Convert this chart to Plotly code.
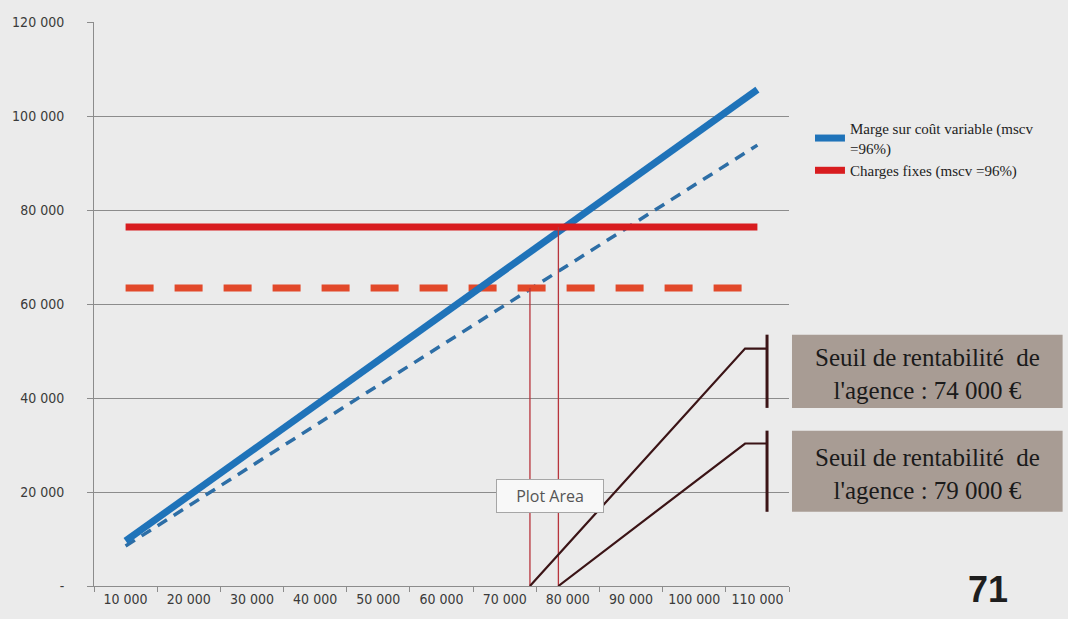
import plotly.graph_objects as go

# ---------------- data ----------------
chiffre_affaires = [10000, 20000, 30000, 40000, 50000, 60000, 70000, 80000, 90000, 100000, 110000]
x_tick_labels = ["10 000", "20 000", "30 000", "40 000", "50 000", "60 000", "70 000",
                 "80 000", "90 000", "100 000", "110 000"]
marge_mscv_96 = [9600, 19200, 28800, 38400, 48000, 57600, 67200, 76800, 86400, 96000, 105600]
marge_dashed = [8500, 17100, 25600, 34100, 42700, 51200, 59700, 68200, 76800, 85300, 93800]
charges_fixes = [76400, 76400, 76400, 76400, 76400, 76400, 76400, 76400, 76400, 76400, 76400]
charges_fixes_dashed = [63400, 63400, 63400, 63400, 63400, 63400, 63400, 63400, 63400, 63400, 63400]
y_tick_values = [0, 20000, 40000, 60000, 80000, 100000, 120000]
y_tick_labels = ["-", "20 000", "40 000", "60 000", "80 000", "100 000", "120 000"]
seuil_x = [74000, 78500]          # break-even points (drop lines)
seuil_level = [63400, 76400]
seuil_labels = ["Seuil de rentabilité\u00a0 de<br>l'agence : 74 000 €",
                "Seuil de rentabilité\u00a0 de<br>l'agence : 79 000 €"]

# ---------------- geometry helpers ----------------
W, H = 1068, 619
L, R, T, B = 93, 789, 22, 592
X0, X1 = 5000, 115000
Y0, Y1 = 0, 120000


def PX(px):
    return (px - L) / (R - L)


def PY(py):
    return (B - py) / (B - T)


def XD(px):
    return X0 + (px - L) / (R - L) * (X1 - X0)


def YD(py):
    return Y0 + (B - py) / (B - T) * (Y1 - Y0)


fig = go.Figure()

fig.add_trace(go.Scatter(x=chiffre_affaires, y=marge_dashed, mode="lines", showlegend=False,
                         line=dict(color="#2d6ea6", width=3.5, dash="11px,8px")))
fig.add_trace(go.Scatter(x=chiffre_affaires, y=charges_fixes_dashed, mode="lines", showlegend=False,
                         line=dict(color="#e2492a", width=7, dash="28px,21px")))
fig.add_trace(go.Scatter(x=chiffre_affaires, y=marge_mscv_96, mode="lines",
                         name="Marge sur coût variable (mscv<br>=96%)",
                         line=dict(color="#1f73b9", width=7)))
fig.add_trace(go.Scatter(x=chiffre_affaires, y=charges_fixes, mode="lines",
                         name="Charges fixes (mscv =96%)",
                         line=dict(color="#d81c1f", width=7)))

# drop lines at the break-even points
for bx, lvl in zip(seuil_x, seuil_level):
    fig.add_trace(go.Scatter(x=[bx, bx], y=[0, lvl], mode="lines", showlegend=False,
                             line=dict(color="#b8343c", width=1.3)))

shapes = []
annotations = []
callout_color = "#3b1416"
elbow_y = [352, 448]
bar_y = [(338, 412), (435, 517)]
box_y = [(338, 412), (435, 517)]
for i, bx in enumerate(seuil_x):
    ey = YD(elbow_y[i])
    shapes.append(dict(type="path", xref="x", yref="y",
                       path=f"M {bx},0 L {XD(745)},{ey} L {XD(767)},{ey}",
                       line=dict(color=callout_color, width=2.2)))
    shapes.append(dict(type="line", xref="x", yref="y",
                       x0=XD(767), x1=XD(767), y0=YD(bar_y[i][0]), y1=YD(bar_y[i][1]),
                       line=dict(color=callout_color, width=3)))
    top, bot = box_y[i]
    shapes.append(dict(type="rect", xref="paper", yref="paper",
                       x0=PX(792), x1=PX(1063), y0=PY(bot), y1=PY(top),
                       fillcolor="#a89c94", line=dict(width=0), layer="below"))
    annotations.append(dict(xref="paper", yref="paper", x=PX((792 + 1063) / 2),
                            y=PY((top + bot) / 2 + 3),
                            xanchor="center", yanchor="middle", showarrow=False,
                            text=seuil_labels[i], align="center",
                            font=dict(family="Liberation Serif, Times New Roman, serif", size=25,
                                      color="#1a1a1a")))

annotations.append(dict(xref="paper", yref="paper", x=PX(550), y=PY(501),
                        xanchor="center", yanchor="middle", showarrow=False,
                        text="Plot Area", width=96, height=22, borderpad=5, borderwidth=1,
                        bordercolor="#a6a6a6", bgcolor="#f8f8f8",
                        font=dict(family="Open Sans, sans-serif", size=16, color="#555555")))

annotations.append(dict(xref="paper", yref="paper", x=PX(988), y=PY(618),
                        xanchor="center", yanchor="bottom", showarrow=False, text="<b>71</b>",
                        font=dict(family="Liberation Sans Narrow, Liberation Sans, Arial, sans-serif",
                                  size=36, color="#1e1e1e")))

axis_font = dict(family="DejaVu Sans Condensed, Liberation Sans Narrow, Liberation Sans, sans-serif",
                 size=14, color="#3a3a3a")
grid_c = "#8c8c8c"

fig.update_layout(
    width=W, height=H,
    margin=dict(l=L, r=W - R, t=T, b=H - B, pad=0),
    paper_bgcolor="#ebebeb", plot_bgcolor="rgba(0,0,0,0)",
    hovermode=False,
    shapes=shapes, annotations=annotations,
    legend=dict(x=PX(810), y=PY(113), xanchor="left", yanchor="top",
                bgcolor="rgba(0,0,0,0)", tracegroupgap=0,
                font=dict(family="Liberation Serif, Times New Roman, serif", size=15, color="#222222")),
    xaxis=dict(range=[X0, X1], tickmode="array", tickvals=chiffre_affaires, ticktext=x_tick_labels,
               ticks="", showgrid=False, zeroline=False, showline=True, linecolor=grid_c, linewidth=1,
               tickfont=axis_font,
               minor=dict(tickmode="linear", tick0=5000, dtick=10000, ticks="outside",
                          ticklen=5, tickcolor=grid_c, showgrid=False)),
    yaxis=dict(range=[Y0, Y1], tickmode="array", tickvals=y_tick_values, ticktext=y_tick_labels,
               ticks="outside", ticklen=6, tickcolor=grid_c, showgrid=True, gridcolor=grid_c,
               gridwidth=1, zeroline=False, showline=True, linecolor=grid_c, linewidth=1,
               tickfont=axis_font, ticklabelstandoff=20),
)

fig.write_html("out.html", config={"displayModeBar": False},
               post_script="document.body.style.margin='0';document.body.style.overflow='hidden';")
